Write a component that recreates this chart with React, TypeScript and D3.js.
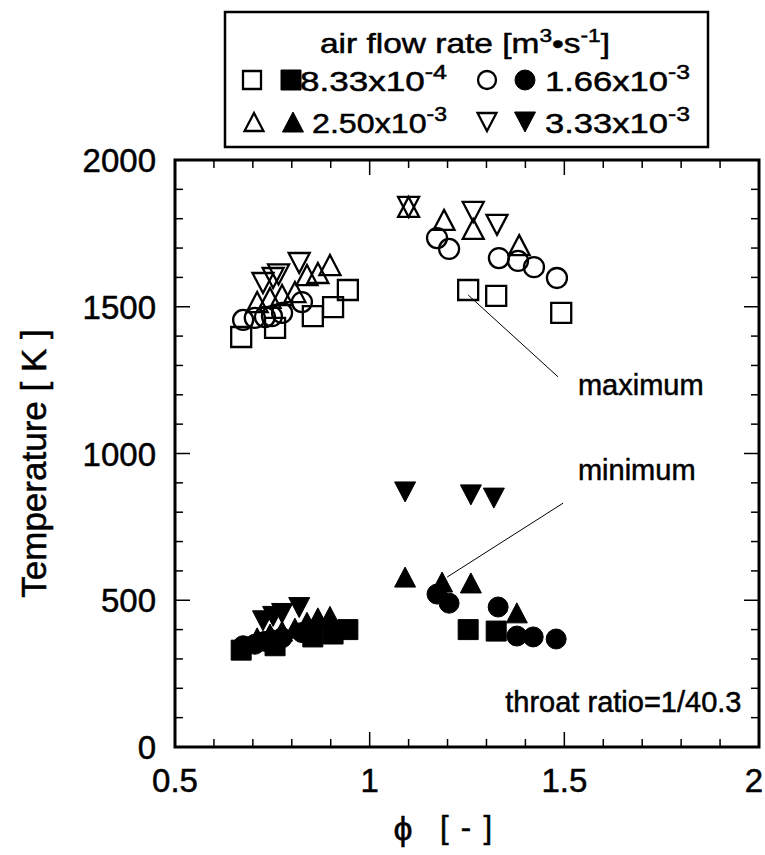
import React from "react";
import * as d3 from "d3";

// [phi, T] pairs
const maxSquare = [[0.67, 1397], [0.757, 1428], [0.854, 1468], [0.906, 1499], [0.944, 1557], [1.253, 1557], [1.325, 1537], [1.492, 1479]];
const maxCircle = [[0.675, 1455], [0.705, 1462], [0.731, 1465], [0.749, 1468], [0.775, 1479], [0.826, 1516], [1.173, 1734], [1.204, 1697], [1.332, 1666], [1.381, 1656], [1.422, 1635], [1.481, 1598]];
const maxTriUp = [[0.711, 1516], [0.744, 1530], [0.775, 1540], [0.808, 1550], [0.839, 1608], [0.867, 1615], [0.898, 1642], [1.10, 1840], [1.191, 1796], [1.266, 1765], [1.384, 1710]];
const maxTriDown = [[0.726, 1581], [0.752, 1598], [0.766, 1610], [0.819, 1649], [1.10, 1840], [1.266, 1823], [1.327, 1779]];

const minSquare = [[0.67, 330], [0.757, 345], [0.854, 375], [0.906, 385], [0.944, 400], [1.253, 400], [1.325, 395]];
const minCircle = [[0.675, 345], [0.705, 350], [0.731, 360], [0.749, 365], [0.775, 372], [0.826, 390], [1.173, 521], [1.204, 490], [1.33, 477], [1.378, 378], [1.42, 375], [1.479, 368]];
const minTriUp = [[0.711, 372], [0.744, 385], [0.775, 395], [0.808, 405], [0.839, 425], [0.867, 440], [0.898, 445], [1.091, 579], [1.186, 562], [1.26, 559], [1.378, 457]];
const minTriDown = [[0.726, 430], [0.752, 445], [0.775, 455], [0.819, 475], [1.091, 869], [1.26, 859], [1.319, 848]];

const xTicks = [0.5, 1, 1.5, 2];
const yTicks = [0, 500, 1000, 1500, 2000];
const flowRates = [["8.33x10", "-4"], ["1.66x10", "-3"], ["2.50x10", "-3"], ["3.33x10", "-3"]];

const W = 765, H = 855;
const margin = { top: 160, right: 6, bottom: 108, left: 175 };
const FONT = "'Liberation Sans', Arial, Helvetica, sans-serif";

const x = d3.scaleLinear().domain([0.5, 2]).range([margin.left, W - margin.right]);
const y = d3.scaleLinear().domain([0, 2000]).range([H - margin.bottom, margin.top]);

function markerPath(shape: string, cx: number, cy: number, s: number) {
  const h = s / 2;
  if (shape === "square") return `M${cx - h},${cy - h}h${s}v${s}h${-s}Z`;
  if (shape === "up") return `M${cx},${cy - h}L${cx + h * 1.05},${cy + h}L${cx - h * 1.05},${cy + h}Z`;
  if (shape === "down") return `M${cx},${cy + h}L${cx + h * 1.05},${cy - h}L${cx - h * 1.05},${cy - h}Z`;
  const p = d3.path();
  p.arc(cx, cy, h, 0, 2 * Math.PI);
  return p.toString();
}

function Marker({ shape, cx, cy, filled, s = 20 }) {
  return (
    <path d={markerPath(shape, cx, cy, s)}
      fill={filled ? "#000" : "none"}
      stroke="#000" strokeWidth={filled ? 1 : 2.3} />
  );
}

const series = [
  { shape: "square", max: maxSquare, min: minSquare },
  { shape: "circle", max: maxCircle, min: minCircle },
  { shape: "up", max: maxTriUp, min: minTriUp },
  { shape: "down", max: maxTriDown, min: minTriDown },
];

export default function App() {
  const x0 = margin.left, x1 = W - margin.right, y0 = H - margin.bottom, y1 = margin.top;
  const xMinor = d3.range(0.5, 2.0001, 0.1);
  const yMinor = d3.range(0, 2000.1, 100);
  const isMajorX = (v: number) => Math.abs(v * 2 - Math.round(v * 2)) < 1e-6;
  const isMajorY = (v: number) => Math.round(v) % 500 === 0;

  // legend entries: symbol centres, text start and width
  const legendCols = [
    { shape: "square", cx: [252, 291], tx: 300, tl: 147, row: 0, i: 0 },
    { shape: "circle", cx: [487, 525], tx: 545, tl: 145, row: 0, i: 1 },
    { shape: "up", cx: [254, 293], tx: 312, tl: 135, row: 1, i: 2 },
    { shape: "down", cx: [487, 525], tx: 545, tl: 145, row: 1, i: 3 },
  ];
  const rowY = [80, 122];

  return (
    <svg width={W} height={H} style={{ position: "absolute", left: 0, top: 0, background: "#fff" }}
      fontFamily={FONT}>
      <g stroke="#000" strokeWidth={0.5}>
        {/* legend */}
        <rect x={225} y={12} width={483} height={135} fill="none" stroke="#000" strokeWidth={2.5} />
        <text x={320} y={53} fontSize={28} textLength={290} lengthAdjust="spacingAndGlyphs">
          air flow rate [m<tspan dy={-11} fontSize={19}>3</tspan><tspan dy={11}>•s</tspan>
          <tspan dy={-11} fontSize={19}>-1</tspan><tspan dy={11}>]</tspan>
        </text>
        {legendCols.map((c, k) => (
          <g key={k}>
            <text x={c.tx} y={rowY[c.row] + 11} fontSize={28} textLength={c.tl} lengthAdjust="spacingAndGlyphs">
              {flowRates[c.i][0]}<tspan dy={-12} fontSize={20}>{flowRates[c.i][1]}</tspan>
            </text>
          </g>
        ))}
        {xTicks.map((v, k) => (
          <text key={"xl" + v} x={k === xTicks.length - 1 ? W - 2 : x(v)} y={y0 + 45} fontSize={33}
            textAnchor={k === xTicks.length - 1 ? "end" : "middle"}>{v}</text>
        ))}
        {yTicks.map((v) => (
          <text key={"yl" + v} x={x0 - 19} y={y(v) + 12} fontSize={33} textAnchor="end">{v}</text>
        ))}
        <text x={403} y={840} fontSize={34} textAnchor="middle">ϕ</text>
        <text x={440} y={838} fontSize={31} textLength={52} lengthAdjust="spacing">[ - ]</text>
        <text transform={`translate(46, ${y(1000) + 10}) rotate(-90)`} fontSize={35} textAnchor="middle">
          Temperature [ K ]
        </text>
        <text x={x(1.535)} y={y(1199)} fontSize={29}>maximum</text>
        <text x={x(1.535)} y={y(910)} fontSize={29}>minimum</text>
        <text x={x(1.955)} y={y(119)} fontSize={29} textAnchor="end">throat ratio=1/40.3</text>
      </g>

      {legendCols.map((c, k) => (
        <g key={"lm" + k}>
          <Marker shape={c.shape} cx={c.cx[0]} cy={rowY[c.row]} filled={false} s={18} />
          <Marker shape={c.shape} cx={c.cx[1]} cy={rowY[c.row]} filled={true} s={20} />
        </g>
      ))}

      {/* frame */}
      <rect x={x0} y={y1} width={x1 - x0} height={y0 - y1} fill="none" stroke="#000" strokeWidth={3} />
      {xMinor.map((v, k) => {
        const len = isMajorX(v) ? 15 : 8;
        return (
          <g key={"xt" + k} stroke="#000" strokeWidth={1.5}>
            <line x1={x(v)} x2={x(v)} y1={y0} y2={y0 - len} />
            <line x1={x(v)} x2={x(v)} y1={y1} y2={y1 + len} />
          </g>
        );
      })}
      {yMinor.map((v, k) => {
        const len = isMajorY(v) ? 15 : 8;
        return (
          <g key={"yt" + k} stroke="#000" strokeWidth={1.5}>
            <line x1={x0} x2={x0 + len} y1={y(v)} y2={y(v)} />
            <line x1={x1} x2={x1 - len} y1={y(v)} y2={y(v)} />
          </g>
        );
      })}

      {/* data */}
      {series.map((s) => (
        <g key={s.shape}>
          {s.max.map((d, k) => <Marker key={"a" + k} shape={s.shape} cx={x(d[0])} cy={y(d[1])} filled={false} />)}
          {s.min.map((d, k) => <Marker key={"b" + k} shape={s.shape} cx={x(d[0])} cy={y(d[1])} filled={true} />)}
        </g>
      ))}

      {/* annotations */}
      <line x1={x(1.253)} y1={y(1540)} x2={x(1.484)} y2={y(1261)} stroke="#000" strokeWidth={1} />
      <line x1={x(1.199)} y1={y(579)} x2={x(1.497)} y2={y(831)} stroke="#000" strokeWidth={1} />
    </svg>
  );
}
